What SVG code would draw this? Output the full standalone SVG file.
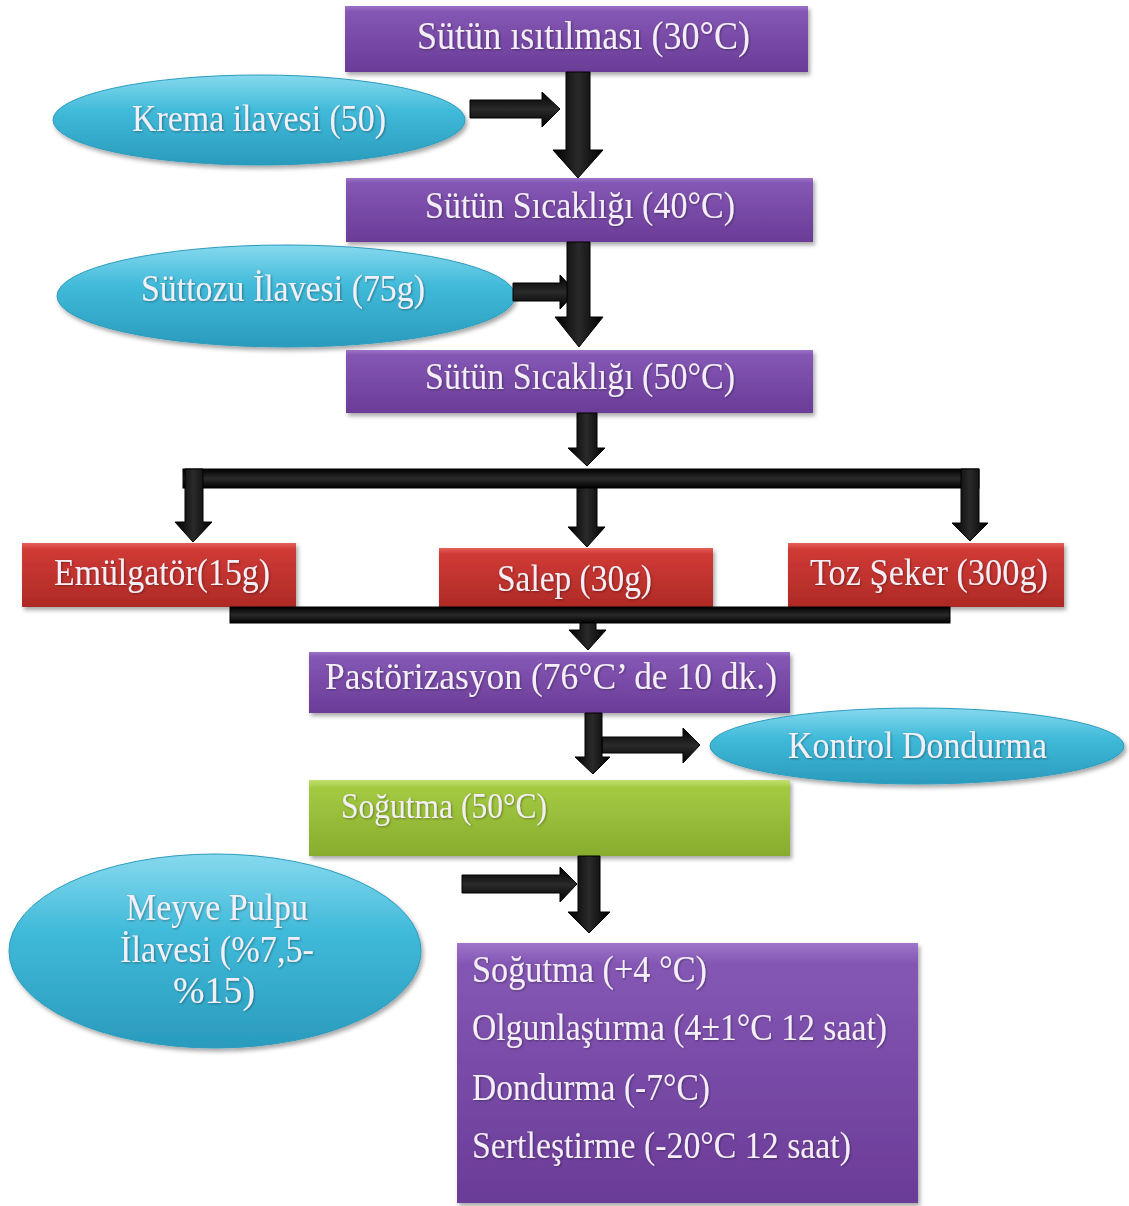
<svg xmlns="http://www.w3.org/2000/svg" width="1129" height="1206" viewBox="0 0 1129 1206">
<defs>
<linearGradient id="gPurple" x1="0" y1="0" x2="0" y2="1">
<stop offset="0" stop-color="#9C74C8"/><stop offset="0.08" stop-color="#8457B4"/><stop offset="1" stop-color="#6A3C97"/>
</linearGradient>
<linearGradient id="gRed" x1="0" y1="0" x2="0" y2="1">
<stop offset="0" stop-color="#E4615B"/><stop offset="0.1" stop-color="#D03A35"/><stop offset="1" stop-color="#AE2A26"/>
</linearGradient>
<linearGradient id="gGreen" x1="0" y1="0" x2="0" y2="1">
<stop offset="0" stop-color="#C2E070"/><stop offset="0.1" stop-color="#A4CA42"/><stop offset="1" stop-color="#88AC2E"/>
</linearGradient>
<linearGradient id="gCyan" x1="0" y1="0" x2="0" y2="1">
<stop offset="0" stop-color="#86D9EE"/><stop offset="0.4" stop-color="#40BAD9"/><stop offset="1" stop-color="#2A9BBD"/>
</linearGradient>
<linearGradient id="gArrowV" x1="0" y1="0" x2="1" y2="0">
<stop offset="0" stop-color="#000"/><stop offset="0.5" stop-color="#2a2a2a"/><stop offset="1" stop-color="#000"/>
</linearGradient>
<linearGradient id="gArrowH" x1="0" y1="0" x2="0" y2="1">
<stop offset="0" stop-color="#000"/><stop offset="0.5" stop-color="#2a2a2a"/><stop offset="1" stop-color="#000"/>
</linearGradient>
<filter id="sh" x="-10%" y="-20%" width="120%" height="150%">
<feDropShadow dx="2" dy="3" stdDeviation="2" flood-color="#000" flood-opacity="0.35"/>
</filter>
<filter id="tsh" x="-5%" y="-20%" width="110%" height="150%">
<feDropShadow dx="1" dy="1" stdDeviation="1" flood-color="#000" flood-opacity="0.35"/>
</filter>
</defs>
<style>
text{font-family:"Liberation Serif","Times New Roman",serif;font-size:37px;fill:#F4EFF6;filter:url(#tsh)}
.p{fill:url(#gPurple);filter:url(#sh)}
.r{fill:url(#gRed);filter:url(#sh)}
.g{fill:url(#gGreen);filter:url(#sh)}
.c{fill:url(#gCyan);stroke:#2C9CBD;stroke-width:1;filter:url(#sh)}
.av{fill:url(#gArrowV);stroke:#000;stroke-width:1}
.ah{fill:url(#gArrowH);stroke:#000;stroke-width:1}
.m{text-anchor:middle}
</style>
<rect width="1129" height="1206" fill="#fff"/>

<g id="n1"><rect class="p" x="345" y="6" width="463" height="66"/><text x="417" y="49" style="font-size:39px" textLength="333" lengthAdjust="spacingAndGlyphs">Sütün ısıtılması (30°C)</text></g>
<g id="n2"><ellipse class="c" cx="259" cy="120" rx="206" ry="45"/><text x="132" y="131" textLength="254" lengthAdjust="spacingAndGlyphs">Krema ilavesi (50)</text></g>
<g id="n3"><rect class="p" x="346" y="178" width="467" height="64"/><text x="425" y="218" textLength="310" lengthAdjust="spacingAndGlyphs">Sütün Sıcaklığı (40°C)</text></g>
<g id="n4"><ellipse class="c" cx="286" cy="296" rx="229" ry="51"/><text x="141" y="301" textLength="284" lengthAdjust="spacingAndGlyphs">Süttozu İlavesi (75g)</text></g>
<g id="n5"><rect class="p" x="346" y="350" width="467" height="63"/><text x="425" y="389" textLength="310" lengthAdjust="spacingAndGlyphs">Sütün Sıcaklığı (50°C)</text></g>
<g id="n6"><rect class="r" x="22" y="543" width="274" height="64"/><text x="54" y="585" textLength="216" lengthAdjust="spacingAndGlyphs">Emülgatör(15g)</text></g>
<g id="n7"><rect class="r" x="439" y="548" width="274" height="59"/><text x="497" y="591" textLength="155" lengthAdjust="spacingAndGlyphs">Salep (30g)</text></g>
<g id="n8"><rect class="r" x="788" y="543" width="276" height="64"/><text x="810" y="585" textLength="238" lengthAdjust="spacingAndGlyphs">Toz Şeker (300g)</text></g>
<g id="n9"><rect class="p" x="309" y="652" width="481" height="61"/><text x="325" y="689" style="font-size:38px" textLength="452" lengthAdjust="spacingAndGlyphs">Pastörizasyon (76°C’ de 10 dk.)</text></g>
<g id="n10"><ellipse class="c" cx="917" cy="746" rx="207" ry="38"/><text x="788" y="758" textLength="259" lengthAdjust="spacingAndGlyphs">Kontrol Dondurma</text></g>
<g id="n11"><rect class="g" x="309" y="780" width="481" height="76"/><text x="341" y="818" style="font-size:35px" textLength="206" lengthAdjust="spacingAndGlyphs">Soğutma (50°C)</text></g>
<g id="n12"><ellipse class="c" cx="215" cy="951" rx="206" ry="97"/>
<text class="m" x="217" y="920" textLength="182" lengthAdjust="spacingAndGlyphs">Meyve Pulpu</text><text class="m" x="217" y="962" textLength="194" lengthAdjust="spacingAndGlyphs">İlavesi (%7,5-</text><text class="m" x="214" y="1003" textLength="82" lengthAdjust="spacingAndGlyphs">%15)</text></g>
<g id="n13"><rect class="p" x="457" y="943" width="461" height="260"/>
<text x="472" y="982" textLength="235" lengthAdjust="spacingAndGlyphs">Soğutma (+4 °C)</text>
<text x="472" y="1040" textLength="415" lengthAdjust="spacingAndGlyphs">Olgunlaştırma (4±1°C 12 saat)</text>
<text x="472" y="1100" textLength="238" lengthAdjust="spacingAndGlyphs">Dondurma (-7°C)</text>
<text x="472" y="1158" textLength="379" lengthAdjust="spacingAndGlyphs">Sertleştirme (-20°C 12 saat)</text></g>

<g id="connectors">
<polygon class="ah" points="470,100 542,100 542,92 560,109 542,127 542,118 470,118"/>
<polygon class="av" points="566,72 590,72 590,150 603,150 578,178 553,150 566,150"/>
<polygon class="ah" points="513,283 560,283 560,275 576,292 560,309 560,301 513,301"/>
<polygon class="av" points="567,242 590,242 590,317 603,317 579,347 555,317 567,317"/>
<polygon class="av" points="577,413 597,413 597,448 605,448 587,466 568,448 577,448"/>
<rect class="ah" x="183" y="469" width="796" height="19"/>
<polygon class="av" points="185,469 203,469 203,522 212,522 193,542 175,522 185,522"/>
<polygon class="av" points="577,488 597,488 597,527 605,527 587,547 568,527 577,527"/>
<polygon class="av" points="961,469 979,469 979,523 988,523 970,541 952,523 961,523"/>
<rect class="ah" x="230" y="607" width="720" height="16"/>
<polygon class="av" points="580,623 596,623 596,630 606,630 588,650 569,630 580,630"/>
<polygon class="ah" points="602,737 683,737 683,728 700,745 683,763 683,753 602,753"/>
<polygon class="av" points="585,713 602,713 602,757 610,757 593,774 575,757 585,757"/>
<polygon class="ah" points="462,875 560,875 560,867 577,884 560,902 560,893 462,893"/>
<polygon class="av" points="578,856 600,856 600,912 610,912 589,933 568,912 578,912"/>
</g>
</svg>
